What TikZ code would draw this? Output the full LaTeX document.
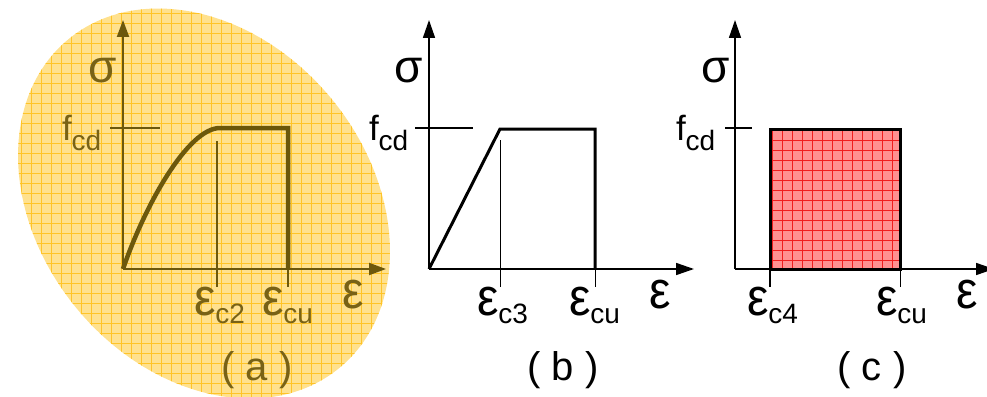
\documentclass[tikz,border=0pt]{standalone}
\usepackage{fontspec}
\setmainfont{Liberation Sans}
\usetikzlibrary{arrows.meta}
\definecolor{olivec}{RGB}{108,88,12}
\definecolor{olivetxt}{RGB}{120,98,22}
\definecolor{elly}{RGB}{255,225,142}
\definecolor{ellgrid}{RGB}{255,196,40}
\definecolor{pinkfill}{RGB}{255,145,145}
\definecolor{redgrid}{RGB}{240,30,30}
\newcommand\bigfnt{\fontsize{46}{46}\selectfont}
\newcommand\epsfnt{\fontsize{48}{48}\selectfont}
\newcommand\subfnt{\fontsize{28}{28}\selectfont}
\newcommand\ffnt{\fontsize{35}{35}\selectfont}
\newcommand\epsglyph{\scalebox{1}[1.1]{\epsfnt ε}}
\newcommand\epslbl[1]{\epsglyph\raisebox{-8pt}{\subfnt #1}}
\newcommand\fcdlbl{{\ffnt f}\raisebox{-10pt}{\subfnt cd}}
\tikzset{
  lbl/.style={anchor=base west, inner sep=0pt, outer sep=0pt},
  axisline/.style={line width=1.6pt, -{Triangle[length=18pt,width=12pt]}},
  thickline/.style={line width=3pt, line join=miter},
  thinline/.style={line width=1pt},
}
\begin{document}
\begin{tikzpicture}[x=1pt,y=1pt]
\useasboundingbox (0,0) rectangle (987,-396);
% ---------------- panel (a) ----------------
\begin{scope}
  \clip[rotate around={-50.45:(204,-203.5)}] (204,-203.5) ellipse [x radius=213pt, y radius=165pt];
  \fill[elly] (0,0) rectangle (420,-400);
  \foreach \gx in {11,21,...,401} \draw[ellgrid, line width=0.9pt] (\gx,0) -- (\gx,-400);
  \foreach \gy in {3,13,...,403} \draw[ellgrid, line width=0.9pt] (0,-\gy) -- (420,-\gy);
\end{scope}
\coordinate (aO) at (123,-269);
\coordinate (aY) at (123,-20);
\coordinate (aX) at (386,-269);
\coordinate (aK) at (220,-128);
\coordinate (aTop) at (288,-128);
\coordinate (aBot) at (288,-269);
\coordinate (aC2t) at (217,-141);
\coordinate (aC2b) at (217,-287);
\coordinate (aCUb) at (288,-287);
\coordinate (aF1) at (110,-128);
\coordinate (aF2) at (160,-128);
\draw[olivec, line width=2pt, -{Triangle[length=17pt,width=12pt]}] (aO) -- (aY);
\draw[olivec, line width=2pt, -{Triangle[length=17pt,width=12pt]}] (aO) -- (aX);
\draw[olivec, line width=4.5pt, line join=miter] (aO) .. controls (145,-205) and (188,-128) .. (aK) -- (aTop) -- (aBot);
\draw[olivec, line width=1.8pt] (aC2t) -- (aC2b);
\draw[olivec, line width=1.8pt] (aBot) -- (aCUb);
\draw[olivec, line width=1.8pt] (aF1) -- (aF2);
\node[lbl, text=olivetxt] (aSig) at (88,-82) {\bigfnt σ};
\node[lbl, text=olivetxt] (aFcd) at (62,-140) {\fcdlbl};
\node[lbl, text=olivetxt] (aEc2) at (194,-315) {\epslbl{c2}};
\node[lbl, text=olivetxt] (aEcu) at (262,-315) {\epslbl{cu}};
\node[lbl, text=olivetxt] (aEps) at (342,-308) {\epsglyph};
\node[anchor=base, inner sep=0pt, text=olivetxt] (aCap) at (257,-380) {\fontsize{40}{40}\selectfont ( a )};
% ---------------- panel (b) ----------------
\coordinate (bO) at (429,-269);
\coordinate (bY) at (429,-20);
\coordinate (bX) at (694,-269);
\coordinate (bK) at (500,-129);
\coordinate (bTop) at (595,-129);
\coordinate (bBot) at (595,-269);
\coordinate (bC3t) at (500,-140);
\coordinate (bC3b) at (500,-287);
\coordinate (bCUb) at (595,-287);
\coordinate (bF1) at (415,-128);
\coordinate (bF2) at (473,-128);
\draw[axisline] (bO) -- (bY);
\draw[axisline] (bO) -- (bX);
\draw[thickline] (bO) -- (bK) -- (bTop) -- (bBot);
\draw[thinline] (bC3t) -- (bC3b);
\draw[thinline] (bBot) -- (bCUb);
\draw[line width=1.2pt] (bF1) -- (bF2);
\node[lbl] (bSig) at (394,-82) {\bigfnt σ};
\node[lbl] (bFcd) at (369,-140) {\fcdlbl};
\node[lbl] (bEc3) at (477,-315) {\epslbl{c3}};
\node[lbl] (bEcu) at (569,-315) {\epslbl{cu}};
\node[lbl] (bEps) at (649,-308) {\epsglyph};
\node[anchor=base, inner sep=0pt] (bCap) at (563,-380) {\fontsize{40}{40}\selectfont ( b )};
% ---------------- panel (c) ----------------
\coordinate (cO) at (735,-269);
\coordinate (cY) at (735,-20);
\coordinate (cX) at (994,-269);
\coordinate (cR1) at (770,-129);
\coordinate (cR2) at (900,-269);
\coordinate (cL) at (770,-269);
\coordinate (cLb) at (770,-287);
\coordinate (cCUb) at (900,-287);
\coordinate (cF1) at (725,-128);
\coordinate (cF2) at (752,-128);
\fill[pinkfill] (cR1) rectangle (cR2);
\begin{scope}
  \clip (cR1) rectangle (cR2);
  \foreach \gx in {772,782,...,902} \draw[redgrid, line width=0.7pt] (\gx,-120) -- (\gx,-280);
  \foreach \gy in {130,140,...,270} \draw[redgrid, line width=0.7pt] (760,-\gy) -- (910,-\gy);
\end{scope}
\draw[axisline] (cO) -- (cY);
\draw[axisline] (cO) -- (cX);
\draw[thickline] (cR1) rectangle (cR2);
\draw[line width=2pt] (cL) -- (cLb);
\draw[thinline] (cR2) -- (cCUb);
\draw[line width=1.2pt] (cF1) -- (cF2);
\node[lbl] (cSig) at (701,-82) {\bigfnt σ};
\node[lbl] (cFcd) at (676,-140) {\fcdlbl};
\node[lbl] (cEc4) at (747,-315) {\epslbl{c4}};
\node[lbl] (cEcu) at (876,-315) {\epslbl{cu}};
\node[lbl] (cEps) at (956,-308) {\epsglyph};
\node[anchor=base, inner sep=0pt] (cCap) at (872,-380) {\fontsize{40}{40}\selectfont ( c )};
\end{tikzpicture}
\end{document}
